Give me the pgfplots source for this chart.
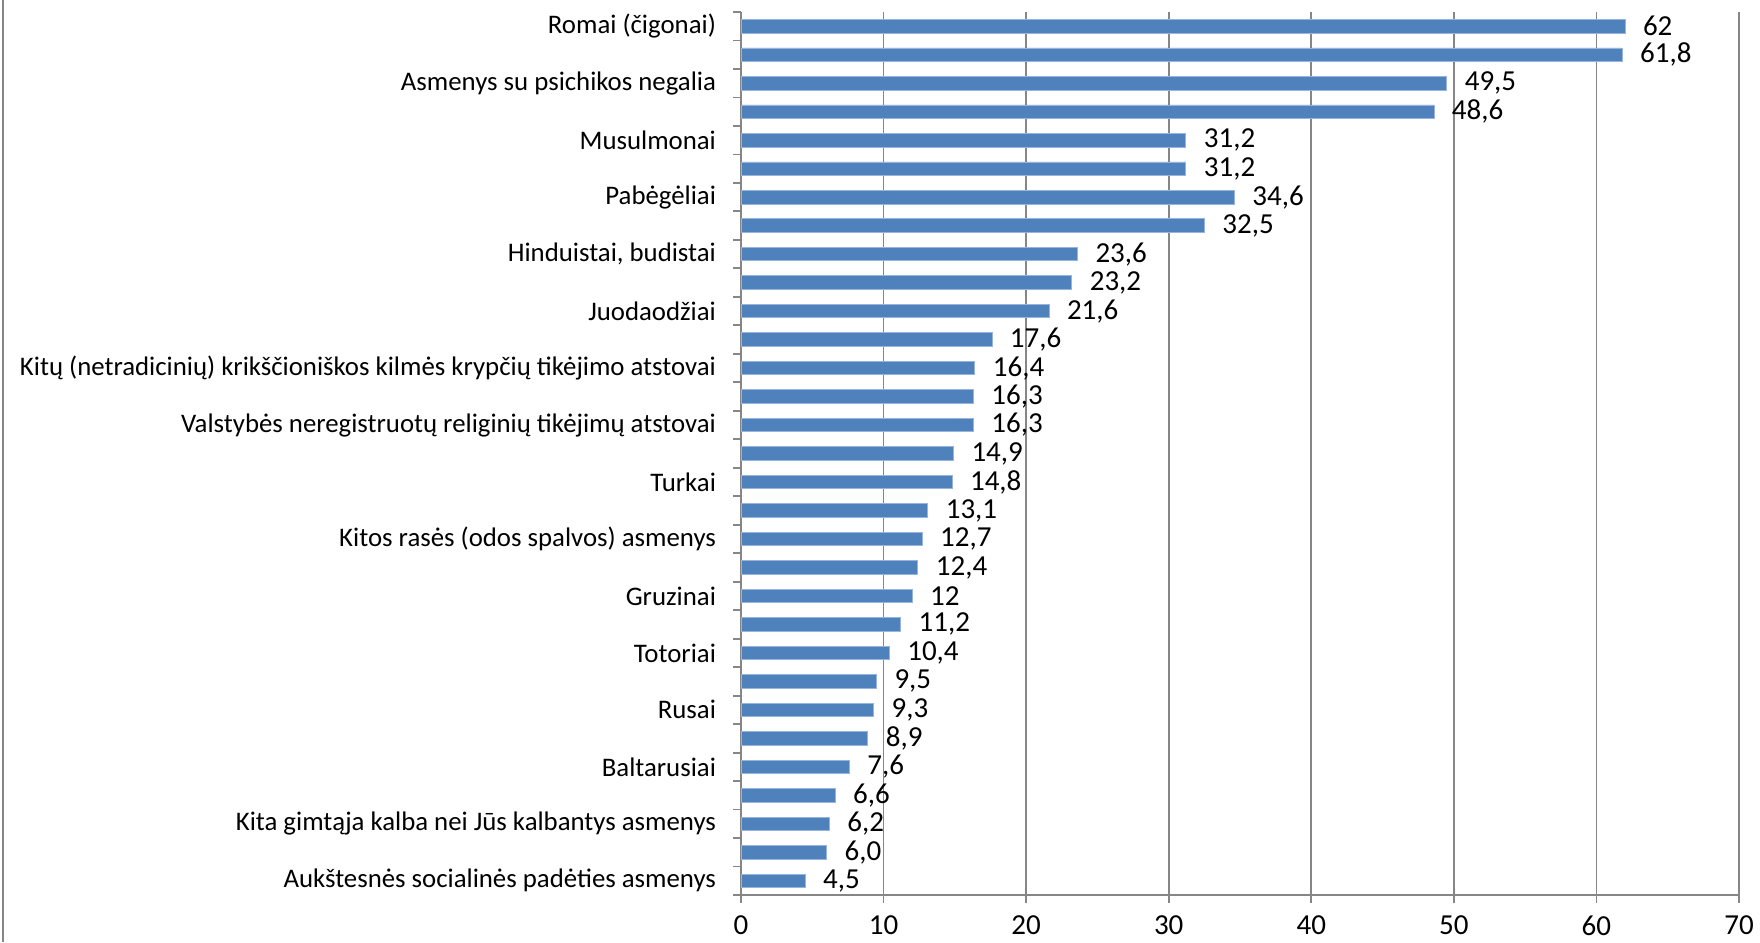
\documentclass[border=0pt]{standalone}
\usepackage{fontspec}
\setmainfont{Carlito}
\usepackage{pgfplots}
\pgfplotsset{compat=1.18}
\usepackage{pgfplotstable}
\definecolor{barblue}{RGB}{79,129,189}
\definecolor{baredge}{RGB}{150,180,220}
\definecolor{gridgray}{RGB}{134,134,134}
\pgfplotstableread{
y value lab
0 62 62
1 61.8 61,8
2 49.5 49,5
3 48.6 48,6
4 31.2 31,2
5 31.2 31,2
6 34.6 34,6
7 32.5 32,5
8 23.6 23,6
9 23.2 23,2
10 21.6 21,6
11 17.6 17,6
12 16.4 16,4
13 16.3 16,3
14 16.3 16,3
15 14.9 14,9
16 14.8 14,8
17 13.1 13,1
18 12.7 12,7
19 12.4 12,4
20 12 12
21 11.2 11,2
22 10.4 10,4
23 9.5 9,5
24 9.3 9,3
25 8.9 8,9
26 7.6 7,6
27 6.6 6,6
28 6.2 6,2
29 6.0 6,0
30 4.5 4,5
}\datatable
\begin{document}
\begin{tikzpicture}
\begin{axis}[
  name=ax,
  at={(0,0)}, anchor=south west,
  scale only axis,
  width=499pt, height=441.5pt,
  xmin=0, xmax=70,
  ymin=-0.5, ymax=30.5,
  y dir=reverse,
  xbar, bar width=6.75pt,
  axis x line*=bottom, axis y line*=left,
  axis line style={gridgray, line width=0.9pt},
  xtick={0,10,...,70},
  xmajorgrids,
  major grid style={gridgray, line width=0.9pt},
  tick align=outside,
  major tick length=4pt,
  minor tick length=4pt,
  x tick style={gridgray, line width=0.9pt},
  ytick={0,2,...,30},
  minor ytick={-0.5,0.5,...,30.5},
  major y tick style={draw=none},
  minor y tick style={draw=gridgray, line width=0.9pt},
  y tick label style={xshift=-5pt, font=\fontsize{13.4}{15}\selectfont},
  yticklabels={Romai (čigonai), Asmenys su psichikos negalia, Musulmonai, Pabėgėliai, {Hinduistai, budistai}, Juodaodžiai, Kitų (netradicinių) krikščioniškos kilmės krypčių tikėjimo atstovai, Valstybės neregistruotų religinių tikėjimų atstovai, Turkai, Kitos rasės (odos spalvos) asmenys, Gruzinai, Totoriai, Rusai, Baltarusiai, Kita gimtąja kalba nei Jūs kalbantys asmenys, Aukštesnės socialinės padėties asmenys},
  x tick label style={yshift=-3pt, font=\fontsize{14.5}{16}\selectfont},
  /pgf/number format/assume math mode=true,
  point meta=explicit symbolic,
  nodes near coords,
  every node near coord/.append style={font=\fontsize{14.5}{16}\selectfont, anchor=west, xshift=5.5pt, black},
]
\addplot[fill=barblue, draw=baredge, line width=0.4pt] table[x=value, y=y, meta=lab] {\datatable};
\end{axis}
\pgfresetboundingbox
\path (ax.south west) ++(-370.5pt,-23.5pt) coordinate (bl);
\path (ax.north east) ++(10.5pt,6pt) coordinate (tr);
\useasboundingbox (bl) rectangle (tr);
\draw[gridgray, line width=0.9pt] ([xshift=1.5pt]bl) -- ([xshift=1.5pt]bl |- tr);
\end{tikzpicture}
\end{document}
